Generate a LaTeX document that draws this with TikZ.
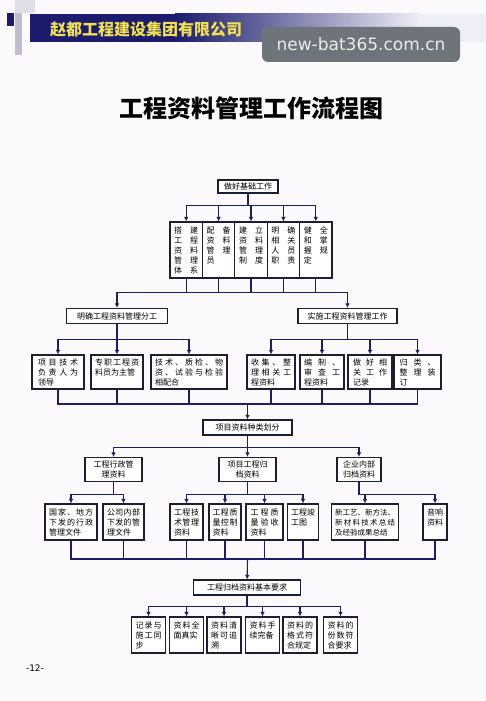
\documentclass[tikz,border=0pt]{standalone}
\usepackage{fontspec}
\usepackage{tikz}
\usetikzlibrary{arrows.meta}
\newfontfamily\cjk{Noto Sans CJK SC}
\newfontfamily\webfont{DejaVu Sans}
\definecolor{pagebg}{RGB}{251,249,252}
\definecolor{boxline}{RGB}{30,30,50}
\definecolor{conn}{RGB}{30,30,100}
\definecolor{hdblue}{RGB}{28,28,110}
\definecolor{hdlight}{RGB}{238,238,246}
\definecolor{hdyellow}{RGB}{240,225,80}
\definecolor{sqlight}{RGB}{222,222,232}
\definecolor{sqgray}{RGB}{190,190,205}
\definecolor{wmgray}{RGB}{110,116,121}
\definecolor{wmtext}{RGB}{236,236,236}
% spread the characters of one line over the box
\newcommand{\ls}[1]{\makebox[\linewidth][s]{\lsfirst#1\relax}}
\def\lsfirst#1{#1\lsnext}
\def\lsnext#1{\ifx\relax#1\else\hfil#1\expandafter\lsnext\fi}
\tikzstyle{boxbase} = [draw=boxline, line width=1.1pt, fill=white,
    font=\cjk\fontsize{8}{10}\selectfont]
\tikzstyle{stagebox} = [boxbase, inner sep=1pt, minimum height=15pt]
\tikzstyle{colbox} = [boxbase, align=left, text width=24pt, minimum width=32.4pt,
    inner xsep=3pt, inner ysep=4pt, text height=7.5pt, text depth=40.5pt]
\tikzstyle{itembox} = [boxbase, align=left, inner xsep=3.5pt, inner ysep=3pt,
    text height=7pt, text depth=21pt]
\tikzstyle{tallbox} = [itembox, inner ysep=4pt, text height=7.5pt, text depth=20.5pt]
\tikzstyle{groupbox} = [boxbase, align=center, minimum height=24pt, inner sep=2pt]
\tikzstyle{conline} = [draw=conn, line width=1.1pt]
\tikzstyle{conarrow} = [conline, -{Latex[length=4.5pt,width=4.5pt]}]

\begin{document}
\begin{tikzpicture}[x=1pt,y=-1pt]
    \useasboundingbox (0,0) rectangle (486,701);
    \fill[pagebg] (0,0) rectangle (486,701);
    \fill[sqlight] (15,0) rectangle (35,13);
    \fill[sqgray] (15,13) rectangle (22,55);
    \fill[hdblue] (7,13) rectangle (14,26);
    \fill[hdblue] (30,14) rectangle (175,42);
    \shade[left color=hdblue, right color=hdlight] (175,14) rectangle (420,42);
    \fill[hdlight] (420,14) rectangle (486,42);
    \node[anchor=west, inner sep=0pt, text=hdyellow,
        font=\cjk\bfseries\fontsize{16}{16}\selectfont] (corp) at (50,29) {赵都工程建设集团有限公司};
    \node[fill=wmgray, rounded corners=6pt, minimum width=198pt, minimum height=35pt,
        text=wmtext, font=\webfont\fontsize{17}{17}\selectfont] (mark) at (361,44.5) {new-bat365.com.cn};
    \node[font=\cjk\bfseries\fontsize{24}{24}\selectfont] (title) at (251,108) {工程资料管理工作流程图};

    \node[stagebox, minimum width=60pt, minimum height=13pt] (base) at (248,186.5) {做好基础工作};

    \node[colbox] (v1) at (186.2,250) {\ls{搭建}\\ \ls{工程}\\ \ls{资料}\\ \ls{管理}\\ \ls{体系}};
    \node[colbox] (v2) at (218.6,250) {\ls{配备}\\ \ls{资料}\\ \ls{管理}\\ 员};
    \node[colbox] (v3) at (251,250) {\ls{建立}\\ \ls{资料}\\ \ls{管理}\\ \ls{制度}};
    \node[colbox] (v4) at (283.4,250) {\ls{明确}\\ \ls{相关}\\ \ls{人员}\\ \ls{职责}};
    \node[colbox] (v5) at (315.8,250) {\ls{健全}\\ \ls{和掌}\\ \ls{握规}\\ 定};

    \node[stagebox, minimum width=101pt] (fenA) at (117,316) {明确工程资料管理分工};
    \node[stagebox, minimum width=99pt] (shiA) at (347.5,316) {实施工程资料管理工作};

    \node[itembox, text width=40pt, minimum width=52pt] (a1) at (58,372) {\ls{项目技术}\\ \ls{负责人为}\\ 领导};
    \node[itembox, text width=44pt, minimum width=52pt] (a2) at (117,372) {\ls{专职工程资}\\ 料员为主管};
    \node[itembox, text width=68pt, minimum width=76pt] (a3) at (189,372) {\ls{技术、质检、物}\\ \ls{资、试验与检验}\\ 相配合};
    \node[itembox, text width=40pt, minimum width=48pt] (b1) at (271,372) {\ls{收集、整}\\ \ls{理相关工}\\ 程资料};
    \node[itembox, text width=36pt, minimum width=44pt] (b2) at (322,372) {\ls{编制、}\\ \ls{审查工}\\ 程资料};
    \node[itembox, text width=34pt, minimum width=44pt] (b3) at (370,372) {\ls{做好相}\\ \ls{关工作}\\ 记录};
    \node[itembox, text width=36pt, minimum width=47pt] (b4) at (417.5,372) {\ls{归类、}\\ \ls{整理装}\\ 订};

    \node[stagebox, minimum width=89pt] (kind) at (247.5,427.5) {项目资料种类划分};

    \node[groupbox, minimum width=57pt] (c1) at (113.5,469.5) {工程行政管\\理资料};
    \node[groupbox, minimum width=57pt] (c2) at (247.5,469.5) {项目工程归\\档资料};
    \node[groupbox, minimum width=44pt] (c3) at (359,469.5) {企业内部\\归档资料};

    \node[tallbox, text width=44pt, minimum width=52pt] (d1) at (71,522) {\ls{国家、地方}\\ \ls{下发的行政}\\ 管理文件};
    \node[tallbox, text width=33pt, minimum width=41pt] (d2) at (123.5,522) {\ls{公司内部}\\ \ls{下发的管}\\ 理文件};
    \node[tallbox, text width=25pt, minimum width=33pt] (d3) at (186.5,522) {\ls{工程技}\\ \ls{术管理}\\ 资料};
    \node[tallbox, text width=25pt, minimum width=32pt] (d4) at (225,522) {\ls{工程质}\\ \ls{量控制}\\ 资料};
    \node[tallbox, text width=28pt, minimum width=37pt] (d5) at (264.5,522) {\ls{工程质}\\ \ls{量验收}\\ 资料};
    \node[tallbox, text width=24pt, minimum width=30pt] (d6) at (303,522) {\ls{工程竣}\\ 工图};
    \node[tallbox, text width=60pt, minimum width=66pt, font=\cjk\fontsize{7.5}{10}\selectfont] (d7) at (365,522)
        {\ls{新工艺、新方法、}\\ \ls{新材料技术总结}\\ 及经验成果总结};
    \node[tallbox, text width=16pt, minimum width=24pt] (d8) at (435,522) {音响\\ 资料};

    \node[stagebox, minimum width=107pt] (req) at (247,587.5) {工程归档资料基本要求};

    \node[tallbox, text width=26pt, minimum width=34pt] (e1) at (148.5,635) {\ls{记录与}\\ \ls{施工同}\\ 步};
    \node[tallbox, text width=26pt, minimum width=34pt] (e2) at (186.5,635) {\ls{资料全}\\ 面真实};
    \node[tallbox, text width=26pt, minimum width=34pt] (e3) at (224,635) {\ls{资料清}\\ \ls{晰可追}\\ 溯};
    \node[tallbox, text width=26pt, minimum width=34pt] (e4) at (262.5,635) {\ls{资料手}\\ 续完备};
    \node[tallbox, text width=26pt, minimum width=34pt] (e5) at (300,635) {\ls{资料的}\\ \ls{格式符}\\ 合规定};
    \node[tallbox, text width=26pt, minimum width=34pt] (e6) at (340.5,635) {\ls{资料的}\\ \ls{份数符}\\ 合要求};

    \node[font=\webfont\fontsize{9}{9}\selectfont] (page) at (35,668) {-12-};

    \foreach \t in {v1,v2,v3,v4,v5}
        \draw[conarrow] (base.south) -- ++(0,12) -| (\t.north);
    \draw[conarrow] (v1.south) -- ++(0,14) -| (fenA.north);
    \draw[conarrow] (v1.south) ++(0,14) -| (shiA.north);
    \foreach \t in {v2,v3,v4,v5}
        \draw[conline] (\t.south) -- ++(0,14);

    \foreach \t in {a1,a2,a3}
        \draw[conarrow] (fenA.south) -- ++(0,15.5) -| (\t.north);
    \foreach \t in {b1,b2,b3,b4}
        \draw[conarrow] (shiA.south) -- ++(0,15.5) -| (\t.north);

    \coordinate (busC) at (247.5,404);
    \foreach \s in {a1,a2,a3,b1,b2,b3,b4}
        \draw[conline] (\s.south) |- (busC);
    \draw[conarrow] (busC) -- (kind);

    \foreach \t in {c1,c2,c3}
        \draw[conarrow] (kind.south) -- ++(0,12) -| (\t.north);
    \foreach \t in {d1,d2}
        \draw[conarrow] (c1.south) -- ++(0,12) -| (\t.north);
    \foreach \t in {d3,d4,d5,d6}
        \draw[conarrow] (c2.south) -- ++(0,12) -| (\t.north);
    \foreach \t in {d7,d8}
        \draw[conarrow] (c3.south) -- ++(0,12) -| (\t.north);

    \coordinate (busE) at (247.5,559);
    \foreach \s in {d1,d2,d3,d4,d5,d6,d7,d8}
        \draw[conline] (\s.south) |- (busE);
    \draw[conarrow] (busE) -- (req);

    \foreach \t in {e1,e2,e3,e4,e5,e6}
        \draw[conarrow] (req.south) -- ++(0,11) -| (\t.north);
\end{tikzpicture}
\end{document}
